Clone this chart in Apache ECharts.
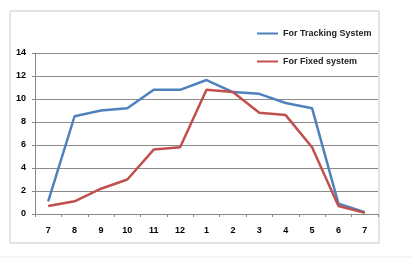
<!DOCTYPE html>
<html>
<head>
<meta charset="utf-8">
<script src="https://cdn.jsdelivr.net/npm/echarts@6/dist/echarts.min.js"></script>
<style>
  html, body { margin: 0; padding: 0; background: #fff; }
  #chart { width: 412px; height: 259px; }
</style>
</head>
<body>
<div id="chart"></div>
<script>
// months on the x axis
var months = ['7', '8', '9', '10', '11', '12', '1', '2', '3', '4', '5', '6', '7'];
var trackingValues = [1.1, 8.5, 9.0, 9.2, 10.8, 10.8, 11.65, 10.6, 10.45, 9.65, 9.2, 0.9, 0.15];
var fixedValues = [0.7, 1.1, 2.2, 3.0, 5.6, 5.8, 10.8, 10.6, 8.8, 8.6, 5.8, 0.7, 0.1];
var seriesNames = ['For Tracking System', 'For Fixed system'];

var myChart = echarts.init(document.getElementById('chart'));
var labelFont = { color: '#000', fontSize: 9, fontWeight: 'bold', fontFamily: 'Liberation Sans' };

var option = {
    animation: false,
    grid: { left: 35, right: 34, top: 53, bottom: 45 },
    graphic: [
        { type: 'rect', shape: { x: 10, y: 11, width: 369, height: 232 },
          style: { fill: 'none', stroke: '#c8c8c8', lineWidth: 1 }, z: -1 },
        { type: 'line', shape: { x1: 0, y1: 257, x2: 412, y2: 257 },
          style: { stroke: '#ececec', lineWidth: 1 } }
    ],
    legend: {
        orient: 'vertical',
        left: 252,
        top: 24,
        itemGap: 19,
        itemWidth: 21,
        itemHeight: 12,
        icon: 'path://M0,5 L21,5 L21,7 L0,7 Z',
        textStyle: { color: '#222', fontSize: 9, fontWeight: 'bold', fontFamily: 'Liberation Sans' },
        data: seriesNames
    },
    xAxis: {
        type: 'category',
        data: months,
        boundaryGap: true,
        axisLine: { lineStyle: { color: '#888', width: 1 } },
        axisTick: { show: true, length: 3, lineStyle: { color: '#888' } },
        axisLabel: Object.assign({ margin: 12 }, labelFont)
    },
    yAxis: {
        type: 'value',
        min: 0,
        max: 14,
        interval: 2,
        axisLine: { show: true, lineStyle: { color: '#888' } },
        axisTick: { show: true, length: 3, lineStyle: { color: '#888' } },
        splitLine: { lineStyle: { color: '#8a8a8a', width: 1 } },
        axisLabel: Object.assign({ margin: 9 }, labelFont)
    },
    series: [{
        name: seriesNames[0],
        type: 'line',
        data: trackingValues,
        symbol: 'none',
        itemStyle: { color: '#4F81BD' },
        lineStyle: { color: '#4F81BD', width: 2.5 }
    }, {
        name: seriesNames[1],
        type: 'line',
        data: fixedValues,
        symbol: 'none',
        itemStyle: { color: '#C0504D' },
        lineStyle: { color: '#C0504D', width: 2.5 }
    }]
};

myChart.setOption(option);
</script>
</body>
</html>
